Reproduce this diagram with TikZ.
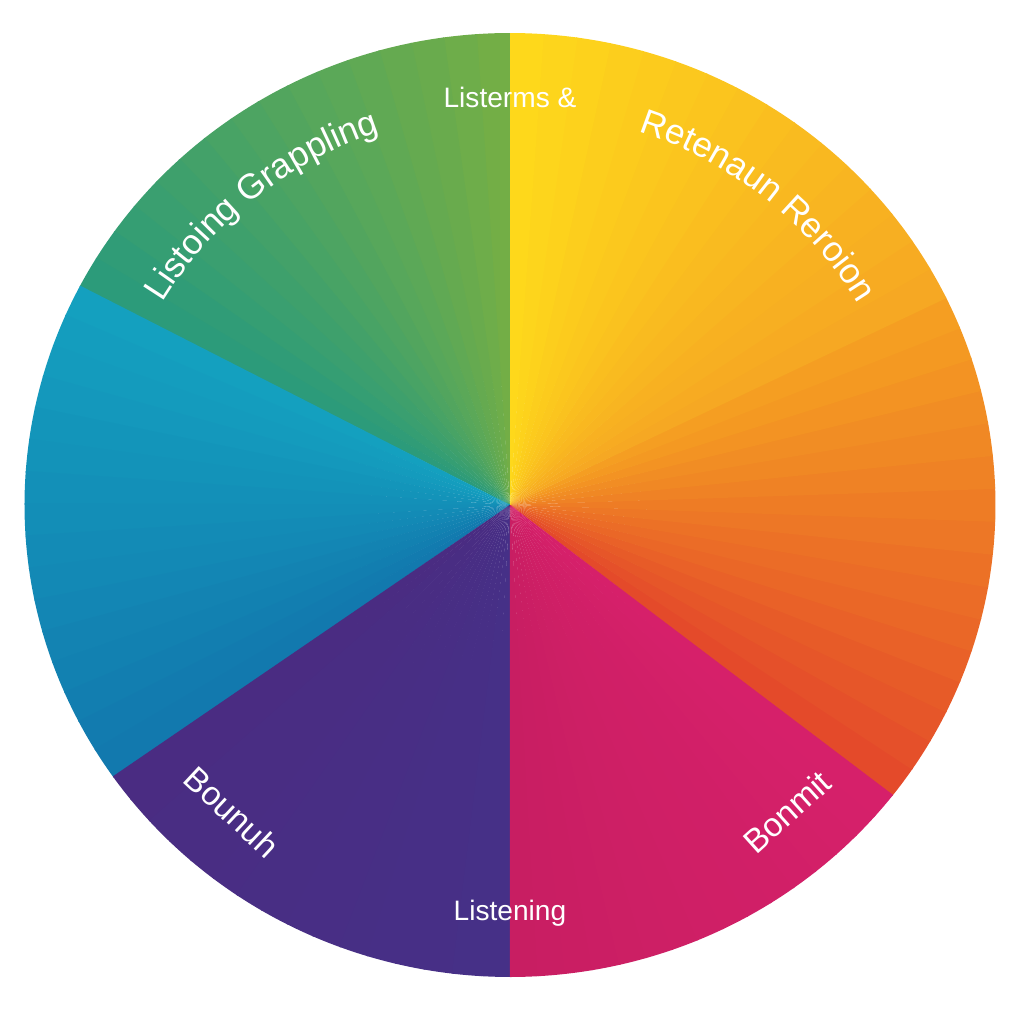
\documentclass[tikz,border=0pt]{standalone}
\usepackage{fontspec}
\setmainfont{Liberation Sans}
\usetikzlibrary{decorations.text}

% sector colours, A at the start angle, B at the end angle
\definecolor{orangeA}{HTML}{E44A2A}
\definecolor{orangeB}{HTML}{F59E22}
\definecolor{yellowA}{HTML}{F6A823}
\definecolor{yellowB}{HTML}{FED81B}
\definecolor{greenA}{HTML}{73AE46}
\definecolor{greenB}{HTML}{2C9B7A}
\definecolor{blueA}{HTML}{14A0BF}
\definecolor{blueB}{HTML}{1279AE}
\definecolor{purpleA}{HTML}{4A2C82}
\definecolor{purpleB}{HTML}{463087}
\definecolor{pinkA}{HTML}{C81E62}
\definecolor{pinkB}{HTML}{D6206A}

\begin{document}
\begin{tikzpicture}[
  lbl/.style={text=white, inner sep=0pt, font=\fontsize{8}{10}\selectfont},
  biglbl/.style={lbl, font=\fontsize{9.5}{11}\selectfont}]

  \useasboundingbox (-5.10,-5.19) rectangle (5.14,5.05);

  % the six sectors, each cut into thin slices
  \foreach \sa/\sb/\ca/\cb in {-38.1/26/orangeA/orangeB, 26/90/yellowA/yellowB,
      90/152.3/greenA/greenB, 152.3/215.1/blueA/blueB,
      215.1/270/purpleA/purpleB, 270/321.9/pinkA/pinkB}{
    \foreach \k in {0,...,15}{
      \pgfmathsetmacro\s{\sa+(\sb-\sa)*\k/16}
      \pgfmathsetmacro\e{\sa+(\sb-\sa)*(\k+1)/16+0.2}
      \pgfmathtruncatemacro\p{100-\k*100/15}
      \fill[\ca!\p!\cb] (0,0) -- (\s:4.855 and 4.72)
        arc[start angle=\s, end angle=\e, x radius=4.855, y radius=4.72] -- cycle;
    }
  }

  % straight labels
  \node[lbl] (lblTop) at (0,4.08) {Listerms \&};
  \node[lbl] (lblBottom) at (0,-4.08) {Listening};
  \node[biglbl, rotate=-43] (lblLeft) at (-2.78,-3.07) {Bounuh};
  \node[biglbl, rotate=42] (lblRight) at (2.77,-3.07) {Bonmit};

  % curved labels
  \path[decorate, decoration={text along path, text align=center, text color=white,
      text={|\fontsize{10}{12}\selectfont|Listoing Grappling}}]
    (159:4.05 and 3.94) arc[start angle=159, end angle=99, x radius=4.05, y radius=3.94];
  \path[decorate, decoration={text along path, text align=center, text color=white,
      text={|\fontsize{10}{12}\selectfont|Retenaun Reroion}}]
    (81:4.05 and 3.94) arc[start angle=81, end angle=21, x radius=4.05, y radius=3.94];
\end{tikzpicture}
\end{document}
